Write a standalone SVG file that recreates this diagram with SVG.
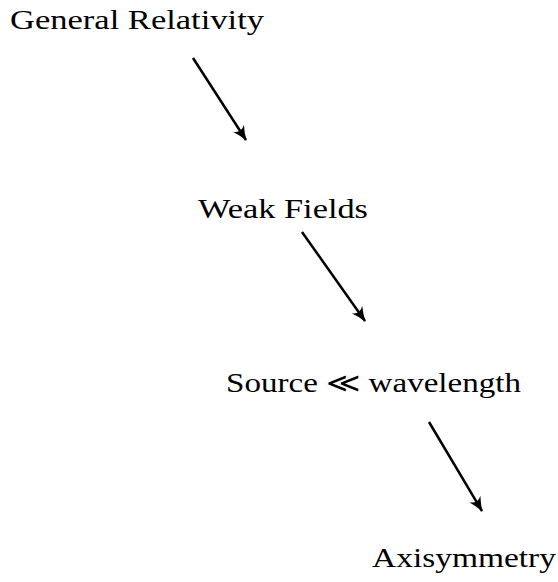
<svg xmlns="http://www.w3.org/2000/svg" width="558" height="582" viewBox="0 0 558 582">
<defs>
<style>
text{font-family:"Liberation Serif","DejaVu Serif",serif;font-size:27px;fill:#000}
.c{stroke:#000;stroke-width:2.5;fill:none}
</style>
<marker id="ah" viewBox="0 0 16 14" refX="14" refY="7" markerWidth="16" markerHeight="14" markerUnits="userSpaceOnUse" orient="auto">
<path d="M0,0.5 Q8,5 15,7 Q8,9 0,13.5 Q6,7 0,0.5Z" fill="#000"/>
</marker>
</defs>
<rect width="558" height="582" fill="#fff"/>
<g id="n1"><text x="10" y="29" textLength="254" lengthAdjust="spacingAndGlyphs">General Relativity</text></g>
<g id="n2"><text x="198" y="218" textLength="170" lengthAdjust="spacingAndGlyphs">Weak Fields</text></g>
<g id="n3"><text x="226" y="392" textLength="295" lengthAdjust="spacingAndGlyphs">Source ≪ wavelength</text></g>
<g id="n4"><text x="372" y="567" textLength="184" lengthAdjust="spacingAndGlyphs">Axisymmetry</text></g>
<g id="connectors">
<line class="c" x1="193" y1="58" x2="246" y2="140" marker-end="url(#ah)"/>
<line class="c" x1="302" y1="232" x2="365" y2="321" marker-end="url(#ah)"/>
<line class="c" x1="429" y1="422" x2="482" y2="511" marker-end="url(#ah)"/>
</g>
</svg>
